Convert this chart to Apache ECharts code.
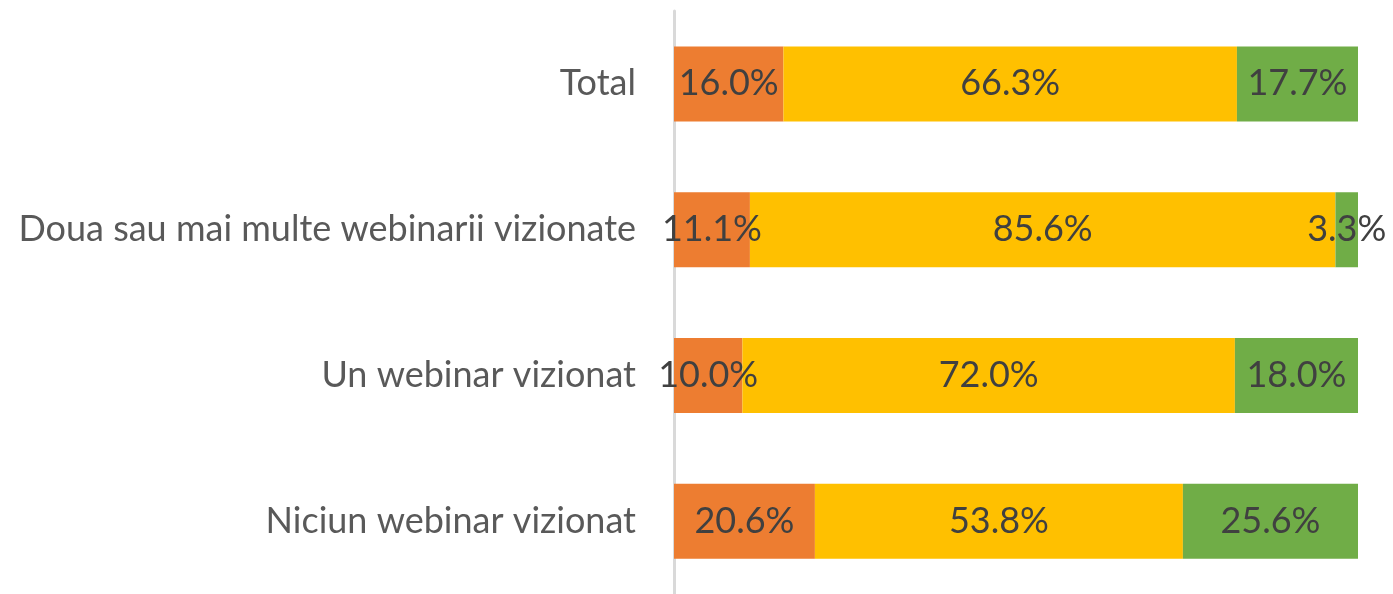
<!DOCTYPE html>
<html>
<head>
<meta charset="utf-8">
<script src="https://cdn.jsdelivr.net/npm/echarts@6/dist/echarts.min.js"></script>
<style>
  html, body { margin: 0; padding: 0; background: #fff; }
  #chart { width: 1393px; height: 594px; }
</style>
</head>
<body>
<div id="chart"></div>
<script>
// categorii (de sus in jos)
const categories = ["Total", "Doua sau mai multe webinarii vizionate", "Un webinar vizionat", "Niciun webinar vizionat"];
// procente pe fiecare segment
const orangeValues = [16.0, 11.1, 10.0, 20.6];
const yellowValues = [66.3, 85.6, 72.0, 53.8];
const greenValues = [17.7, 3.3, 18.0, 25.6];

const font = "Lato";
const fontSize = 36;

function segment(name, data, color) {
  return {
    name: name,
    type: "bar",
    stack: "total",
    data: data,
    barWidth: 75,
    itemStyle: { color: color },
    label: {
      show: true,
      position: "inside",
      color: "#404040",
      fontFamily: font,
      fontSize: fontSize,
      formatter: p => p.value.toFixed(1) + "%"
    }
  };
}

let myChart = echarts.init(document.getElementById("chart"));
let option = {
  animation: false,
  grid: { left: 674, right: 35, top: 11, bottom: -5, containLabel: false },
  xAxis: {
    type: "value",
    min: 0,
    max: 100,
    show: false
  },
  yAxis: {
    type: "category",
    inverse: true,
    data: categories,
    axisLine: { show: true, lineStyle: { color: "#D9D9D9", width: 3 } },
    axisTick: { show: false },
    axisLabel: {
      color: "#595959",
      fontFamily: font,
      fontSize: fontSize,
      margin: 38
    }
  },
  series: [
    segment("A", orangeValues, "#ED7D31"),
    segment("B", yellowValues, "#FFC000"),
    segment("C", greenValues, "#70AD47")
  ]
};
myChart.setOption(option);
</script>
</body>
</html>
